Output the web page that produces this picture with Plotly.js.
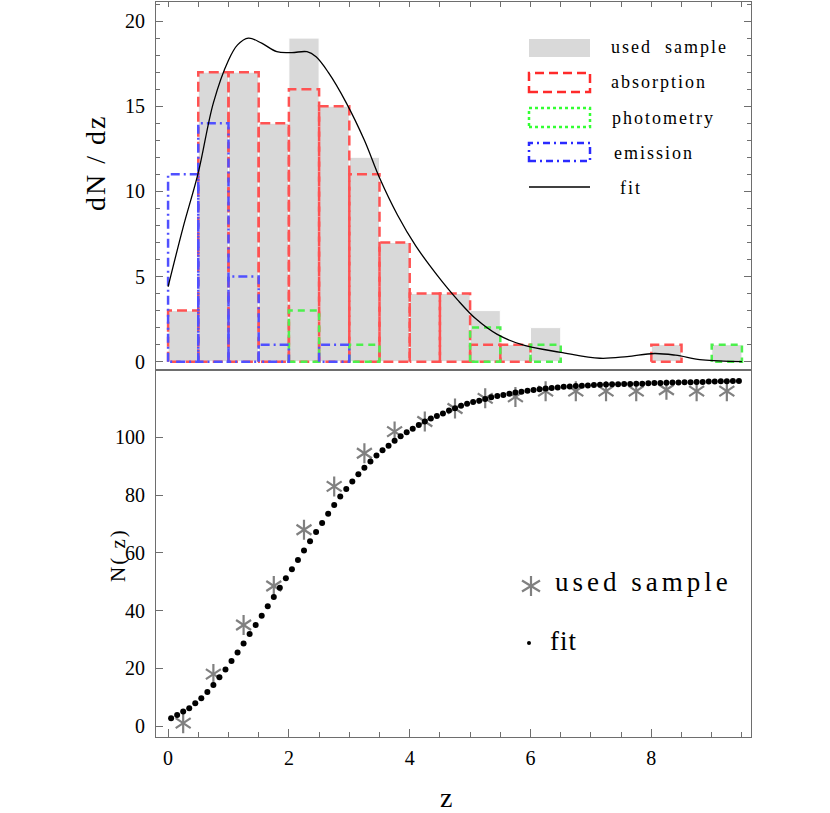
<!DOCTYPE html>
<html lang="en">
<head>
<meta charset="UTF-8">
<title>dN/dz and N(z)</title>
<script src="https://cdn.plot.ly/plotly-3.0.1.min.js"></script>
<style>
  body { margin: 0; background: #fff; }
  #chart { width: 830px; height: 813px; }
  g.annotation text { letter-spacing: 2px; }
  g.annotation[data-index="5"] text { letter-spacing: 4px; }
  g.annotation[data-index="6"] text { letter-spacing: 1px; }
  g.annotation[data-index="9"] text { letter-spacing: 0; }
</style>
</head>
<body>
<div id="chart"></div>
<script>
// histogram bins, width 0.5, left edges
const binLeft = [0, 0.5, 1, 1.5, 2, 2.5, 3, 3.5, 4, 4.5, 5, 5.5, 6, 6.5, 7, 7.5, 8, 8.5, 9];
const binWidth = 0.5;
const usedSample = [3, 17, 17, 14, 19, 15, 12, 7, 4, 4, 3, 1, 2, 0, 0, 0, 1, 0, 1];
const absorption = [3, 17, 17, 14, 16, 15, 11, 7, 4, 4, 1, 1, 0, 0, 0, 0, 1, 0, 0];
const photometry = [0, 0, 0, 0, 3, 0, 1, 0, 0, 0, 2, 0, 1, 0, 0, 0, 0, 0, 1];
const emission   = [11, 14, 5, 1, 0, 1, 0, 0, 0, 0, 0, 0, 0, 0, 0, 0, 0, 0, 0];

// fitted dN/dz curve
const fitCurveZ  = [0, 0.25, 0.5, 0.75, 1.0, 1.15, 1.33, 1.55, 1.8, 2.05, 2.3, 2.45, 2.65, 2.95, 3.25, 3.5, 3.8, 4.1, 4.45, 4.8, 5.1, 5.45, 5.9, 6.5, 7.15, 7.6, 8.05, 8.4, 8.85, 9.5];
const fitCurveDN = [4.4, 7.9, 11.1, 15.2, 17.7, 18.6, 19.0, 18.7, 18.2, 18.15, 18.2, 17.9, 17.0, 15.2, 13.0, 10.8, 8.6, 6.8, 5.1, 3.6, 2.5, 1.6, 0.95, 0.55, 0.2, 0.3, 0.48, 0.38, 0.1, 0.0];

// cumulative counts, used sample (bin centres)
const sampleZ = [0.25, 0.75, 1.25, 1.75, 2.25, 2.75, 3.25, 3.75, 4.25, 4.75, 5.25, 5.75, 6.25, 6.75, 7.25, 7.75, 8.25, 8.75, 9.25];
const sampleN = [1, 18, 35, 48.5, 68, 83, 94.5, 102, 105.5, 110, 113.5, 114, 116, 116, 116, 116, 116.5, 116, 116];

// fitted N(z) dots
const fitZ = [0.05, 0.15, 0.25, 0.35, 0.45, 0.55, 0.65, 0.75, 0.85, 0.95,
  1.05, 1.15, 1.25, 1.35, 1.45, 1.55, 1.65, 1.75, 1.85, 1.95,
  2.05, 2.15, 2.25, 2.35, 2.45, 2.55, 2.65, 2.75, 2.85, 2.95,
  3.05, 3.15, 3.25, 3.35, 3.45, 3.55, 3.65, 3.75, 3.85, 3.95,
  4.05, 4.15, 4.25, 4.35, 4.45, 4.55, 4.65, 4.75, 4.85, 4.95,
  5.05, 5.15, 5.25, 5.35, 5.45, 5.55, 5.65, 5.75, 5.85, 5.95,
  6.05, 6.15, 6.25, 6.35, 6.45, 6.55, 6.65, 6.75, 6.85, 6.95,
  7.05, 7.15, 7.25, 7.35, 7.45, 7.55, 7.65, 7.75, 7.85, 7.95,
  8.05, 8.15, 8.25, 8.35, 8.45, 8.55, 8.65, 8.75, 8.85, 8.95,
  9.05, 9.15, 9.25, 9.35, 9.45];
const fitN = [2.7, 3.8, 5.0, 6.2, 7.9, 9.6, 11.8, 14.2, 16.9, 19.6,
  22.5, 25.5, 28.6, 31.9, 35.0, 38.2, 41.5, 44.7, 47.9, 51.2,
  54.3, 57.5, 60.8, 64.0, 67.2, 70.3, 73.5, 76.6, 79.5, 82.1,
  84.7, 87.2, 89.5, 91.6, 93.7, 95.5, 97.1, 98.8, 100.4, 101.8,
  103.0, 104.3, 105.5, 106.5, 107.4, 108.3, 109.3, 110.1, 110.9, 111.6,
  112.2, 112.7, 113.3, 113.9, 114.3, 114.7, 115.1, 115.5, 115.8, 116.1,
  116.4, 116.7, 116.9, 117.1, 117.3, 117.5, 117.6, 117.8, 117.9, 118.0,
  118.1, 118.2, 118.3, 118.4, 118.4, 118.5, 118.5, 118.6, 118.6, 118.7,
  118.8, 118.8, 118.9, 119.0, 119.0, 119.1, 119.1, 119.2, 119.2, 119.3,
  119.3, 119.4, 119.4, 119.5, 119.5];

const FONT = 'Liberation Serif';
const FRAME = '#6e6e6e';
const W = 830, H = 813;
const M = { l: 156, r: 79, t: 2, b: 76 };
// pixel -> paper helpers for the hand-made legends and titles
const px = x => (x - M.l) / (W - M.l - M.r);
const py = y => (H - M.b - y) / (H - M.t - M.b);

// one closed rectangle per non-empty bin, split by nulls
function outline(counts) {
  const xs = [], ys = [];
  counts.forEach((c, i) => {
    if (!c) return;
    const a = binLeft[i], b = binLeft[i] + binWidth;
    xs.push(a, a, b, b, a, null);
    ys.push(0, c, c, 0, 0, null);
  });
  return { x: xs, y: ys };
}

const nz = usedSample.map((c, i) => i).filter(i => usedSample[i] > 0);

const traces = [
  {
    type: 'bar', xaxis: 'x2', yaxis: 'y2',
    x: nz.map(i => binLeft[i] + binWidth / 2), y: nz.map(i => usedSample[i]),
    width: binWidth, marker: { color: '#d9d9d9', line: { color: '#ffffff', width: 1 } },
    hoverinfo: 'skip'
  },
  Object.assign({ type: 'scatter', mode: 'lines', xaxis: 'x2', yaxis: 'y2',
    line: { color: '#ff5252', width: 2.5, dash: '10px,5px' } }, outline(absorption)),
  Object.assign({ type: 'scatter', mode: 'lines', xaxis: 'x2', yaxis: 'y2',
    line: { color: '#4cf04c', width: 2.5, dash: '7px,5px' } }, outline(photometry)),
  Object.assign({ type: 'scatter', mode: 'lines', xaxis: 'x2', yaxis: 'y2',
    line: { color: '#5050ff', width: 2.5, dash: '9px,4px,2px,4px' } }, outline(emission)),
  {
    type: 'scatter', mode: 'lines', xaxis: 'x2', yaxis: 'y2',
    x: fitCurveZ, y: fitCurveDN,
    line: { color: '#000', width: 1.3, shape: 'spline', smoothing: 1 }
  },
  // asterisks = y-up + y-down (six spokes)
  {
    type: 'scatter', mode: 'markers', x: sampleZ, y: sampleN,
    marker: { symbol: 'y-up-open', size: 12.5, color: '#808080', line: { color: '#808080', width: 2.2 } }
  },
  {
    type: 'scatter', mode: 'markers', x: sampleZ, y: sampleN,
    marker: { symbol: 'y-down-open', size: 12.5, color: '#808080', line: { color: '#808080', width: 2.2 } }
  },
  {
    type: 'scatter', mode: 'markers', x: fitZ, y: fitN,
    marker: { symbol: 'circle', size: 6, color: '#000' }
  }
];

const tickFont = { family: FONT, size: 20, color: '#000' };
const axisBase = {
  showline: true, linecolor: FRAME, linewidth: 1, mirror: true,
  ticks: 'inside', tickcolor: FRAME, tickwidth: 1,
  showgrid: false, zeroline: false, tickfont: tickFont, fixedrange: true
};

// legend swatches for the top panel
const legRows = [
  { y0: 39, y1: 57, text: 'used  sample', ty: 47, tx: 609 },
  { y0: 73, y1: 92, text: 'absorption', ty: 82, tx: 609 },
  { y0: 108, y1: 127, text: 'photometry', ty: 118, tx: 610 },
  { y0: 143, y1: 161, text: 'emission', ty: 153, tx: 612 },
  { y0: 187, y1: 187, text: 'fit', ty: 188, tx: 618 }
];
const legStyles = [
  { fillcolor: '#d9d9d9', line: { width: 0 } },
  { line: { color: '#ff2a2a', width: 2.5, dash: '9px,5px' } },
  { line: { color: '#33ff33', width: 2.5, dash: '3px,3px' } },
  { line: { color: '#2a2aff', width: 2.5, dash: '7px,4px,2px,4px' } },
  { line: { color: '#000', width: 1.5 } }
];

const shapes = legRows.map((r, i) => Object.assign({
  type: i === 4 ? 'line' : 'rect', xref: 'paper', yref: 'paper',
  x0: px(529), x1: px(590), y0: py(r.y1), y1: py(r.y0)
}, legStyles[i]));

// bottom legend: six-spoke asterisk and a dot
const ac = { x: 531, y: 586 };
shapes.push(
  { type: 'line', xref: 'paper', yref: 'paper', x0: px(ac.x), x1: px(ac.x), y0: py(ac.y - 10), y1: py(ac.y + 10), line: { color: '#808080', width: 2.2 } },
  { type: 'line', xref: 'paper', yref: 'paper', x0: px(ac.x - 9), x1: px(ac.x + 9), y0: py(ac.y - 5.5), y1: py(ac.y + 5.5), line: { color: '#808080', width: 2.2 } },
  { type: 'line', xref: 'paper', yref: 'paper', x0: px(ac.x - 9), x1: px(ac.x + 9), y0: py(ac.y + 5.5), y1: py(ac.y - 5.5), line: { color: '#808080', width: 2.2 } },
  { type: 'circle', xref: 'paper', yref: 'paper', x0: px(527), x1: px(531), y0: py(645), y1: py(641), fillcolor: '#000', line: { width: 0 } }
);

const annotations = legRows.map(r => ({
  xref: 'paper', yref: 'paper', x: px(r.tx), y: py(r.ty), xanchor: 'left', yanchor: 'middle', align: 'left',
  text: r.text, showarrow: false, font: { family: FONT, size: 18, color: '#000' }
}));
annotations.push(
  { xref: 'paper', yref: 'paper', x: px(553), y: py(582), xanchor: 'left', yanchor: 'middle', align: 'left', text: 'used sample',
    showarrow: false, font: { family: FONT, size: 27, color: '#000' } },
  { xref: 'paper', yref: 'paper', x: px(548), y: py(641), xanchor: 'left', yanchor: 'middle', align: 'left', text: 'fit',
    showarrow: false, font: { family: FONT, size: 27, color: '#000' } },
  { xref: 'paper', yref: 'paper', x: px(95), y: py(163), xanchor: 'center', yanchor: 'middle', textangle: -90, text: 'dN / dz',
    showarrow: false, font: { family: FONT, size: 28, color: '#000' } },
  { xref: 'paper', yref: 'paper', x: px(118), y: py(555), xanchor: 'center', yanchor: 'middle', textangle: -90, text: 'N( z)',
    showarrow: false, font: { family: FONT, size: 21, color: '#000' } },
  { xref: 'paper', yref: 'paper', x: px(446), y: py(797), xanchor: 'center', yanchor: 'middle', text: 'z',
    showarrow: false, borderpad: 0, font: { family: FONT, size: 28, color: '#000' } }
);

const layout = {
  width: W, height: H,
  margin: M,
  paper_bgcolor: '#fff', plot_bgcolor: '#fff',
  showlegend: false,
  xaxis: Object.assign({}, axisBase, {
    domain: [0, 1], anchor: 'y', range: [-0.2, 9.65],
    tick0: 0, dtick: 2, ticklen: 8, ticklabelstandoff: 3,
    minor: { ticks: 'inside', tick0: 0, dtick: 0.5, ticklen: 5, tickcolor: FRAME }
  }),
  xaxis2: Object.assign({}, axisBase, {
    anchor: 'y2', matches: 'x', range: [-0.2, 9.65], side: 'top',
    tick0: 0, dtick: 0.5, ticklen: 5, showticklabels: false
  }),
  yaxis: Object.assign({}, axisBase, {
    domain: [0, 0.5], anchor: 'x', range: [-3.8, 123.5],
    tickmode: 'array', tickvals: [0, 20, 40, 60, 80, 100], ticklen: 7, ticklabelstandoff: 6
  }),
  yaxis2: Object.assign({}, axisBase, {
    domain: [0.5, 1], anchor: 'x2', range: [-0.46, 21.12], mirror: 'ticks',
    tickmode: 'array', tickvals: [0, 5, 10, 15, 20], ticklen: 7, ticklabelstandoff: 6,
    minor: { ticks: 'inside', tickmode: 'linear', tick0: 0, dtick: 1, ticklen: 4, tickcolor: FRAME }
  }),
  shapes: shapes,
  annotations: annotations
};

Plotly.newPlot('chart', traces, layout, { staticPlot: true });
</script>
</body>
</html>
